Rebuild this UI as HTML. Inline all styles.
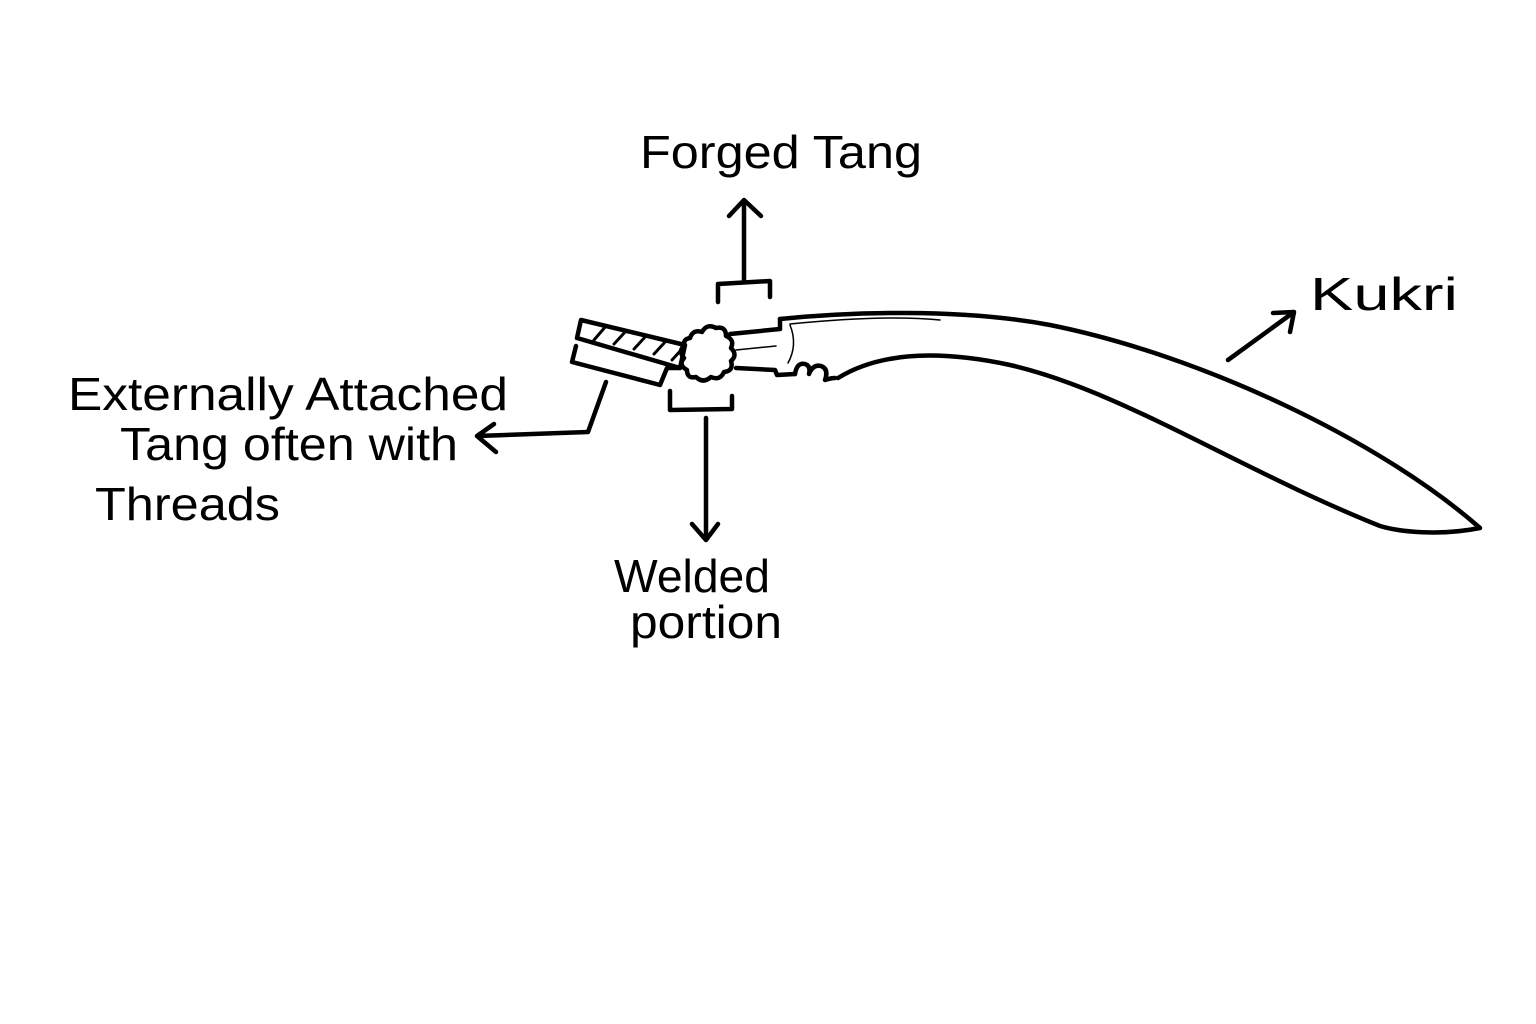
<!DOCTYPE html>
<html><head><style>body{margin:0;background:#fff}svg{display:block}</style></head>
<body>
<svg width="1536" height="1024" viewBox="0 0 1536 1024" xmlns="http://www.w3.org/2000/svg">
<rect width="1536" height="1024" fill="#fff"/>
<g fill="none" stroke="#000" stroke-width="4.5" stroke-linecap="round" stroke-linejoin="round">
<path d="M581,320 L685,345 L680,368 L577,338 Z"/>
<path d="M594,340 L606,326 M614,344 L626,331 M634,349 L646,336 M654,354 L666,341 M672,360 L682,349" stroke-width="3"/>
<path d="M576,346 L572,362 L660,385 L667,368 L680,368"/>
<path d="M690,338 q3,-9 12,-6 q5,-9 14,-4 q10,-2 10,8 q9,4 5,12 q7,7 0,13 q3,10 -7,11 q-4,9 -13,5 q-8,7 -15,0 q-9,2 -9,-7 q-9,-5 -3,-12 q-6,-7 0,-12 q-1,-7 6,-8 Z"/>
<path d="M730,334 L780,329 L780,319"/>
<path d="M736,368 L775,370 L777,375 L795,374"/>
<path d="M795,374 q2,-12 10,-10 q6,2 4,10 q4,-10 12,-8 q8,3 4,14 q6,-2 10,-2"/>
<path d="M736,350 L776,346" stroke-width="1.5"/>
<path d="M780,319 C850,312 960,308 1050,325 C1200,355 1380,440 1480,528 C1440,536 1400,532 1380,526 C1240,470 1120,390 1010,365 C940,350 880,352 838,378"/>
<path d="M790,324 C850,318 900,316 940,320" stroke-width="1.5"/>
<path d="M790,325 q8,20 -2,38" stroke-width="1.5"/>
<path d="M718,302 L718,284 L770,281 L770,297 M744,282 L744,200 M729,216 L744,200 L761,216"/>
<path d="M670,391 L670,410 L732,409 L732,396 M706,418 L706,540 M692,524 L706,540 L718,524"/>
<path d="M606,382 L588,432 L477,436 M494,424 L477,436 L496,452"/>
<path d="M1228,360 L1294,312 M1273,313 L1294,312 L1290,332"/>
</g>
<g font-family="'Liberation Sans', sans-serif" font-size="46" fill="#000" lengthAdjust="spacingAndGlyphs">
<text x="640" y="168" textLength="282" lengthAdjust="spacingAndGlyphs">Forged Tang</text>
<text x="1310" y="310" textLength="148" lengthAdjust="spacingAndGlyphs">Kukri</text>
<text x="68" y="410" textLength="440" lengthAdjust="spacingAndGlyphs">Externally Attached</text>
<text x="120" y="460" textLength="338" lengthAdjust="spacingAndGlyphs">Tang often with</text>
<text x="95" y="520" textLength="185" lengthAdjust="spacingAndGlyphs">Threads</text>
<text x="614" y="592" textLength="156" lengthAdjust="spacingAndGlyphs">Welded</text>
<text x="630" y="638" textLength="152" lengthAdjust="spacingAndGlyphs">portion</text>
</g>
</svg>
</body></html>
